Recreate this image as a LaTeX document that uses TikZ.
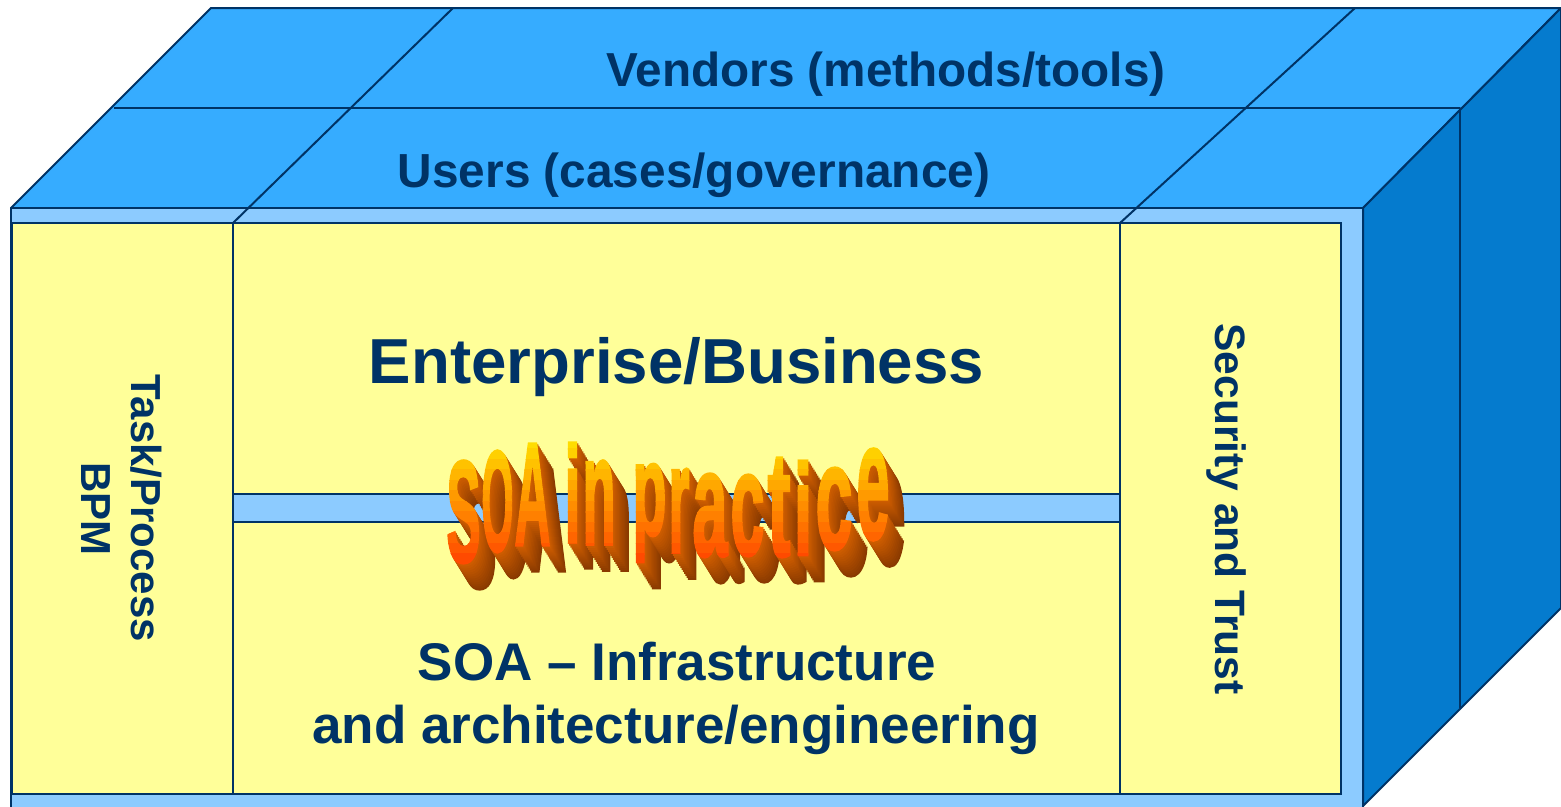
\documentclass[tikz,border=0pt]{standalone}
\usepackage{fontspec}
\setmainfont{Liberation Sans}
\newfontfamily\wafont{Liberation Sans}[BoldFeatures={FakeBold=2.2}]
\usepackage{graphicx}
\definecolor{navy}{HTML}{003366}
\definecolor{topblue}{HTML}{36ACFF}
\definecolor{sideblue}{HTML}{057BCE}
\definecolor{hatchblue}{HTML}{8CCBFF}
\definecolor{paleyellow}{HTML}{FFFF99}
\definecolor{exfar}{HTML}{8A3A00}
\definecolor{exnear}{HTML}{CC5C00}
% one letter of the word art, top-left corner at (#1,#2), size #3 x #4
\newcommand\wl[5]{\rlap{\hspace*{#1pt}\raisebox{-#2pt}[0pt][0pt]{\raisebox{-\height}{\resizebox*{#3pt}{#4pt}{\wafont\bfseries #5}}}}}
\newcommand\soaword{%
\wl{446}{461}{34}{102}{S}%
\wl{481}{451}{32}{101}{O}%
\wl{514}{444}{36}{101}{A}%
\wl{564}{443}{16}{99}{i}%
\wl{582}{461}{33}{83}{n}%
\wl{632}{464}{34}{98}{p}%
\wl{668}{469}{21}{83}{r}%
\wl{692}{474}{35}{83}{a}%
\wl{730}{475}{34}{81}{c}%
\wl{767}{458}{23}{99}{t}%
\wl{793}{461}{19}{94}{i}%
\wl{815}{468}{37}{82}{c}%
\wl{856}{449}{33}{91}{e}%
}
\tikzset{
  edge line/.style={draw=navy, line width=2pt, line join=round},
  cell/.style={fill=paleyellow, draw=navy, line width=2pt},
  label text/.style={text=navy, font=\bfseries, inner sep=0pt},
  wordart/.style={inner sep=0pt, outer sep=0pt, anchor=base west},
}
\begin{document}
\begin{tikzpicture}[x=1pt, y=-1pt]
  \useasboundingbox (0,0) rectangle (1561,806);
  \clip (0,0) rectangle (1561,806);
  % top face
  \path[edge line, fill=topblue] (11,208) -- (1363,208) -- (1561,8) -- (211,8) -- cycle;
  % right face
  \path[edge line, fill=sideblue] (1363,208) -- (1561,8) -- (1561,608) -- (1363,806) -- cycle;
  % front slab
  \path[edge line, fill=hatchblue] (11,208) rectangle (1363,830);
  % cells
  \path[cell] (12,223) rectangle (233,794);
  \path[cell] (233,223) rectangle (1120,494);
  \path[cell] (233,522) rectangle (1120,794);
  \path[cell] (1120,223) rectangle (1341,794);
  % named corner points for top-face lines
  \coordinate (tl) at (114,108);
  \coordinate (tr) at (1460,108);
  \coordinate (br) at (1460,708);
  \coordinate (d1a) at (453,8);
  \coordinate (d1b) at (233,223);
  \coordinate (d2a) at (1355,8);
  \coordinate (d2b) at (1120,223);
  \draw[edge line] (tl) -- (tr) -- (br);
  \draw[edge line] (d1a) -- (d1b);
  \draw[edge line] (d2a) -- (d2b);
  % labels
  \node[label text, anchor=base, font=\bfseries\fontsize{47.7}{57}\selectfont] (vendors) at (886,86) {Vendors (methods/tools)};
  \node[label text, anchor=base, font=\bfseries\fontsize{47.8}{57}\selectfont] (users) at (694,187) {Users (cases/governance)};
  \node[label text, anchor=base, font=\bfseries\fontsize{63.6}{76}\selectfont] (enterprise) at (676.5,383) {Enterprise/Business};
  \node[label text, anchor=base, font=\bfseries\fontsize{53}{63}\selectfont] (infra1) at (677,680) {SOA – Infrastructure};
  \node[label text, anchor=base, font=\bfseries\fontsize{53}{63}\selectfont] (infra2) at (676,743) {and architecture/engineering};
  \node[label text, anchor=base, rotate=-90, font=\bfseries\fontsize{42}{50}\selectfont] (task) at (131.5,508) {Task/Process};
  \node[label text, anchor=base, rotate=-90, font=\bfseries\fontsize{42}{50}\selectfont] (bpm) at (81.5,509) {BPM};
  \node[label text, anchor=base, rotate=-90, font=\bfseries\fontsize{42.5}{50}\selectfont] (security) at (1215,509) {Security and Trust};
  % word art: extrusion (stacked copies, far to near)
  \foreach \k in {13,...,1} {
    \pgfmathsetmacro\pct{100*(\k-1)/12}
    \node[wordart, text=exfar!\pct!exnear] (soaext\k) at (1.24*\k,2*\k) {\soaword};
  }
  % word art: front face, vertical yellow-to-red gradient in strips
  \foreach \i in {0,...,11} {
    \pgfmathsetmacro\ya{438+10.5*\i}
    \pgfmathsetmacro\yb{449.1+10.5*\i}
    \pgfmathtruncatemacro\g{228-160*(\i+0.5)/12}
    \definecolor{stripc}{RGB}{255,\g,0}
    \begin{scope}
      \clip (430,\ya) rectangle (910,\yb);
      \node[wordart, text=stripc] (soafront\i) at (0,0) {\soaword};
    \end{scope}
  }
\end{tikzpicture}
\end{document}
